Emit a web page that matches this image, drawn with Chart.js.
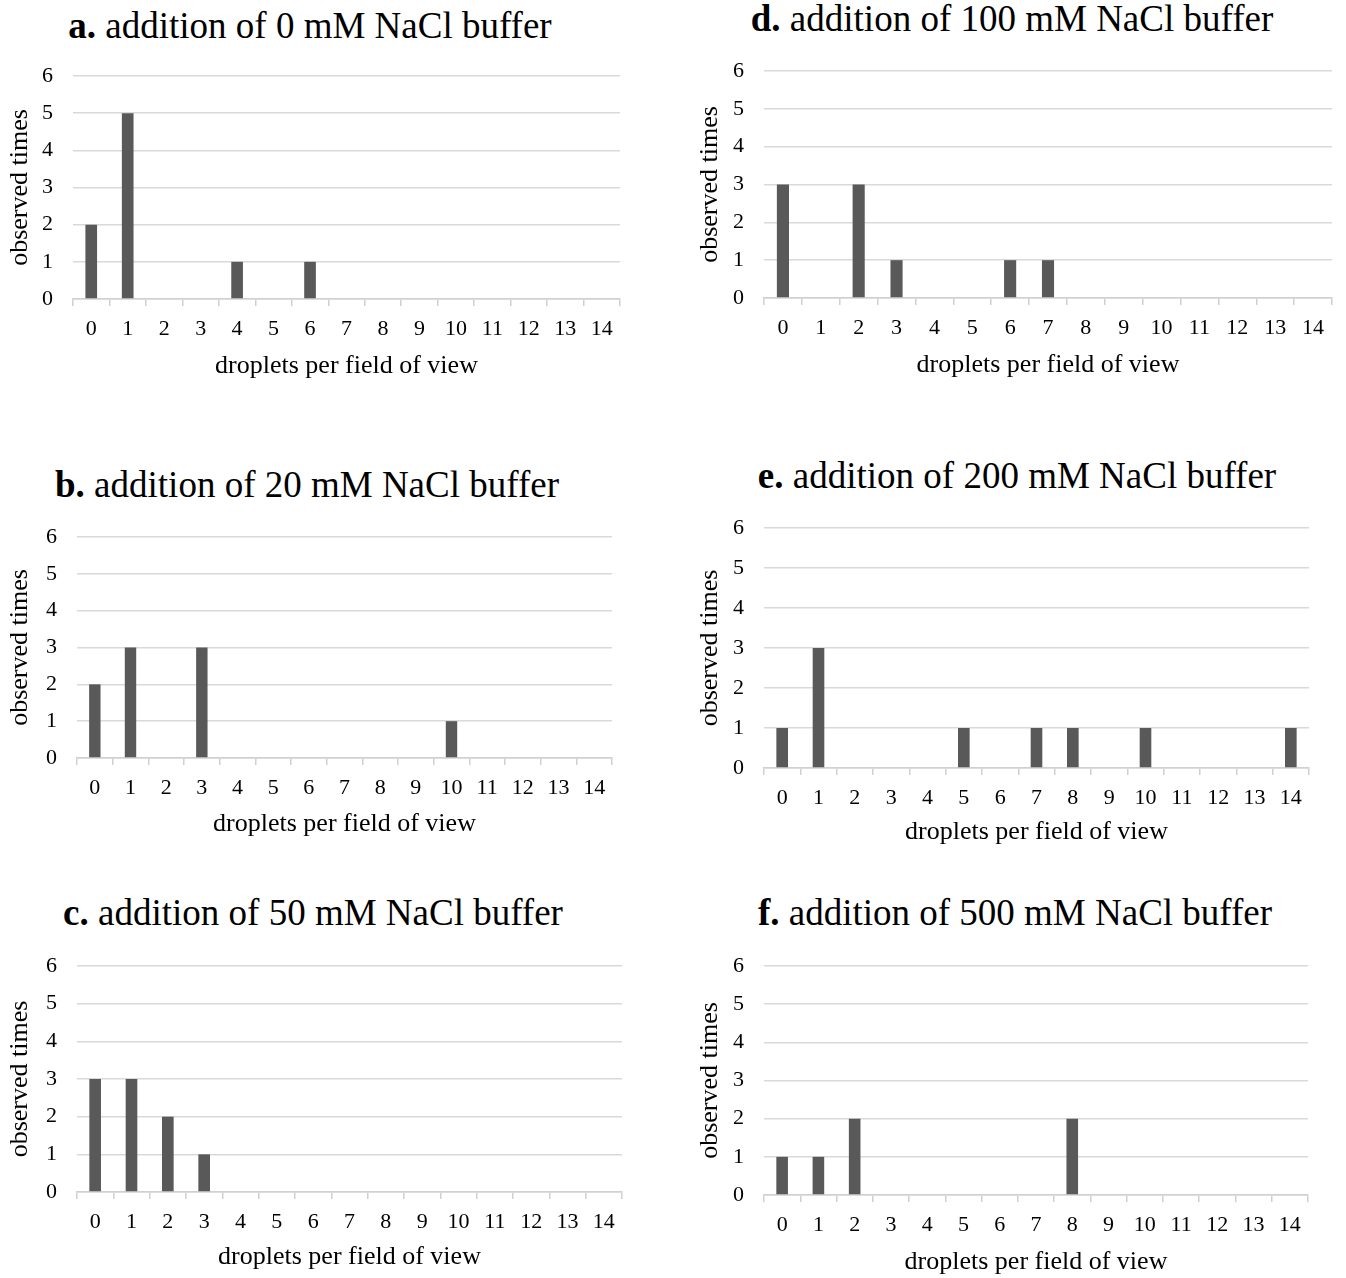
<!DOCTYPE html>
<html>
<head>
<meta charset="utf-8">
<script src="https://cdn.jsdelivr.net/npm/chart.js@4"></script>
<style>
  html, body { margin: 0; padding: 0; background: #fff; }
  #page { position: relative; width: 1346px; height: 1278px; overflow: hidden; }
  .panel { position: absolute; }
  .ttl { position: absolute; transform: translate(-50%, -50%); white-space: nowrap;
         font-family: 'Liberation Serif', 'Times New Roman', serif; font-size: 37px; color: #000; }
  .ttl b { font-weight: bold; }
</style>
</head>
<body>
<div id="page"></div>
<script>
// --- data -----------------------------------------------------------------
var categories = ['0','1','2','3','4','5','6','7','8','9','10','11','12','13','14'];
var yTicks = [0, 1, 2, 3, 4, 5, 6];

var countsA = [2, 5, 0, 0, 1, 0, 1, 0, 0, 0, 0, 0, 0, 0, 0];   // 0 mM
var countsB = [2, 3, 0, 3, 0, 0, 0, 0, 0, 0, 1, 0, 0, 0, 0];   // 20 mM
var countsC = [3, 3, 2, 1, 0, 0, 0, 0, 0, 0, 0, 0, 0, 0, 0];   // 50 mM
var countsD = [3, 0, 3, 1, 0, 0, 1, 1, 0, 0, 0, 0, 0, 0, 0];   // 100 mM
var countsE = [1, 3, 0, 0, 0, 1, 0, 1, 1, 0, 1, 0, 0, 0, 1];   // 200 mM
var countsF = [1, 1, 2, 0, 0, 0, 0, 0, 2, 0, 0, 0, 0, 0, 0];   // 500 mM

var letters = ['a.', 'b.', 'c.', 'd.', 'e.', 'f.'];
var titles = ['addition of 0 mM NaCl buffer', 'addition of 20 mM NaCl buffer',
  'addition of 50 mM NaCl buffer', 'addition of 100 mM NaCl buffer',
  'addition of 200 mM NaCl buffer', 'addition of 500 mM NaCl buffer'];

// --- layout (page px) -------------------------------------------------------
// left/top/width: canvas box; axL: y-axis width; top6: y of the "6" gridline;
// base: y of the baseline; right: right end of the plot; xtY: x-title centre; tx/ty: panel title centre
var panels = [
  { data: countsA, left: 0,   top: 50,  width: 640, axL: 73, top6: 76,  base: 299,  right: 620,  xtY: 364,  tx: 310,  ty: 25 },
  { data: countsB, left: 0,   top: 510, width: 640, axL: 77, top6: 537, base: 758,  right: 612,  xtY: 822,  tx: 307,  ty: 484 },
  { data: countsC, left: 0,   top: 940, width: 640, axL: 77, top6: 966, base: 1192, right: 622,  xtY: 1255, tx: 313,  ty: 912 },
  { data: countsD, left: 690, top: 45,  width: 656, axL: 74, top6: 71,  base: 298,  right: 1332, xtY: 363,  tx: 1012, ty: 18 },
  { data: countsE, left: 690, top: 500, width: 656, axL: 74, top6: 528, base: 768,  right: 1309, xtY: 830,  tx: 1017, ty: 475 },
  { data: countsF, left: 690, top: 940, width: 656, axL: 74, top6: 966, base: 1195, right: 1308, xtY: 1260, tx: 1015, ty: 912 }
];

var SERIF = "'Liberation Serif', 'Times New Roman', serif";
var TITLE_SIZE = 26;
var page = document.getElementById('page');

panels.forEach(function (p, i) {
  var t = document.createElement('div');
  t.className = 'ttl';
  t.style.left = p.tx + 'px';
  t.style.top = p.ty + 'px';
  t.innerHTML = '<b>' + letters[i] + '</b> ' + titles[i];
  page.appendChild(t);

  var bottom = p.xtY + 20;
  var height = bottom - p.top;
  var xH = bottom - p.base;
  var xtPad = bottom - p.xtY - 2 - TITLE_SIZE * 1.2 / 2;

  var wrap = document.createElement('div');
  wrap.className = 'panel';
  wrap.style.left = p.left + 'px';
  wrap.style.top = p.top + 'px';
  wrap.style.width = p.width + 'px';
  wrap.style.height = height + 'px';
  var cv = document.createElement('canvas');
  wrap.appendChild(cv);
  page.appendChild(wrap);

  new Chart(cv.getContext('2d'), {
    type: 'bar',
    data: {
      labels: categories,
      datasets: [{
        data: p.data,
        backgroundColor: '#595959',
        barPercentage: 0.32,
        categoryPercentage: 1
      }]
    },
    options: {
      responsive: true,
      maintainAspectRatio: false,
      animation: false,
      layout: { padding: { top: p.top6 - p.top, right: p.left + p.width - p.right, left: 0, bottom: 0 } },
      plugins: { legend: { display: false }, tooltip: { enabled: false } },
      scales: {
        x: {
          grid: { drawOnChartArea: false, drawTicks: true, tickLength: 7, color: '#d0d0d0', lineWidth: 1.5, offset: true },
          border: { display: true, color: '#d0d0d0', width: 1.5 },
          ticks: { color: '#000', font: { family: SERIF, size: 22 }, padding: 10, maxRotation: 0, autoSkip: false },
          title: { display: true, text: 'droplets per field of view', color: '#000',
                   font: { family: SERIF, size: TITLE_SIZE }, padding: { top: 0, bottom: xtPad } },
          afterFit: function (s) { s.height = xH; }
        },
        y: {
          min: yTicks[0], max: yTicks[yTicks.length - 1],
          afterBuildTicks: function (s) { s.ticks = yTicks.map(function (v) { return { value: v }; }); },
          grid: { color: '#d9d9d9', lineWidth: 1.5, drawTicks: false },
          border: { display: false },
          ticks: { color: '#000', font: { family: SERIF, size: 22 }, padding: 20 },
          title: { display: true, text: 'observed times', color: '#000',
                   font: { family: SERIF, size: TITLE_SIZE }, padding: { top: 5, bottom: 0 } },
          afterFit: function (s) {
            s.width = p.axL;
            // label half-heights + tick padding would otherwise push the plot top down
            s.paddingTop = 0;
            s.paddingBottom = 0;
          }
        }
      }
    }
  });
});
</script>
</body>
</html>
